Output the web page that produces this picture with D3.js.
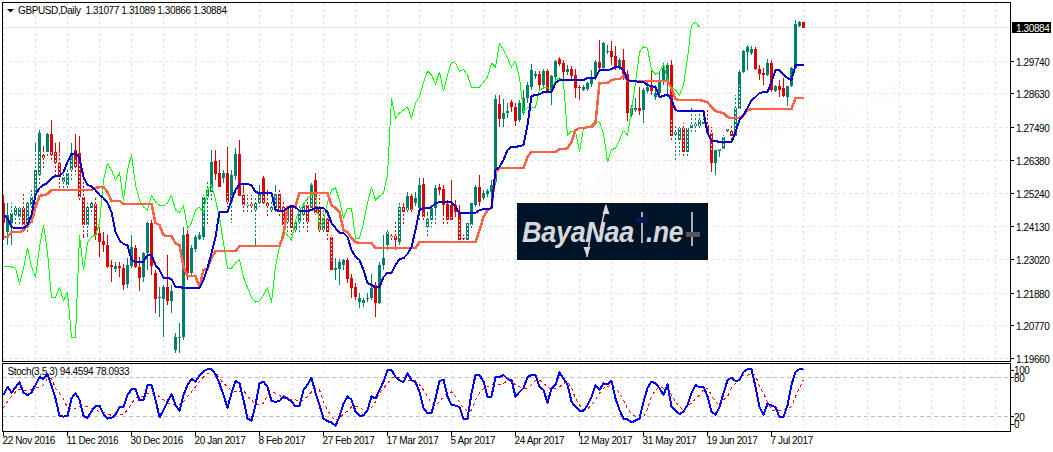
<!DOCTYPE html>
<html><head><meta charset="utf-8">
<script src="https://cdn.jsdelivr.net/npm/d3@7"></script>
<style>html,body{margin:0;padding:0;background:#fff}svg{display:block}text{font-family:"Liberation Sans",Arial,sans-serif;font-size:10px;fill:#000;letter-spacing:-0.38px}</style>
</head><body><div id="c"></div>
<script>
// All prices below are in 1/10000 units (pips).
const opens=[
12495,12396,12427,12454,12447,12478,12413,12488,12522,12590,
12658,12668,12729,12668,12630,12566,12556,12607,12675,12664,
12515,12420,12478,12492,12393,12366,12352,12285,12271,12281,
12274,12220,12281,12342,12278,12244,12325,12427,12258,12173,
12169,12210,12163,11997,12037,12040,12390,12258,12339,12373,
12380,12515,12532,12637,12597,12580,12597,12498,12586,12661,
12522,12485,12492,12471,12495,12580,12495,12471,12478,12525,
12481,12431,12481,12403,12431,12454,12488,12478,12573,12478,
12403,12441,12380,12268,12271,12285,12302,12241,12210,12159,
12156,12169,12173,12217,12156,12285,12352,12383,12383,12363,
12481,12471,12519,12495,12478,12559,12413,12437,12478,12549,
12542,12492,12488,12488,12464,12376,12369,12420,12488,12549,
12512,12525,12532,12566,12830,12779,12800,12837,12820,12776,
12800,12851,12888,12925,12932,12895,12942,12878,12922,12983,
12969,12939,12949,12929,12888,12878,12881,12898,12922,12973,
12952,13007,13010,12993,12956,12980,12932,12793,12810,12817,
12810,12875,12891,12854,12868,12905,12905,12963,12725,12708,
12749,12668,12749,12756,12756,12763,12759,12732,12630,12671,
12678,12739,12739,12722,12813,12939,13007,13003,13017,12949,
12936,12929,12969,12875,12891,12885,12854,12891,12952,13095,
13108];
const highs=[
12522,12495,12495,12488,12481,12529,12505,12539,12698,12742,
12688,12732,12776,12698,12702,12597,12607,12698,12729,12722,
12590,12495,12505,12515,12413,12396,12386,12302,12295,12295,
12288,12308,12386,12352,12312,12329,12431,12437,12268,12210,
12217,12319,12217,12054,12088,12413,12403,12352,12386,12396,
12522,12566,12675,12675,12641,12607,12685,12607,12681,12708,
12556,12522,12522,12515,12556,12586,12539,12505,12556,12539,
12505,12488,12488,12437,12488,12495,12512,12563,12597,12522,
12471,12471,12386,12308,12305,12305,12308,12254,12224,12190,
12173,12190,12254,12227,12295,12386,12403,12390,12431,12495,
12495,12532,12525,12532,12580,12580,12464,12488,12556,12559,
12556,12505,12573,12505,12488,12386,12427,12495,12556,12590,
12539,12542,12573,12861,12861,12847,12834,12844,12834,12844,
12878,12905,12966,12942,12942,12949,12949,12929,12980,12990,
12980,12963,12959,12949,12895,12895,12905,12946,12980,13047,
13041,13031,13044,13027,12986,13017,12946,12827,12851,12888,
12885,12912,12946,12895,12939,12969,12969,12980,12759,12752,
12766,12749,12817,12793,12810,12783,12810,12752,12675,12681,
12725,12749,12759,12861,12946,13014,13031,13027,13024,12963,
12952,12983,12980,12895,12912,12919,12891,12956,13115,13112,
13109];
const lows=[
12369,12352,12352,12420,12420,12410,12393,12471,12488,12556,
12607,12647,12641,12580,12546,12539,12539,12573,12590,12505,
12376,12380,12454,12369,12312,12329,12274,12227,12261,12244,
12200,12207,12274,12274,12196,12227,12268,12251,12122,12108,
12040,12149,12122,11986,11986,12030,12234,12251,12329,12369,
12369,12420,12505,12573,12549,12563,12481,12427,12573,12512,
12464,12464,12464,12352,12481,12488,12444,12461,12464,12451,
12396,12386,12386,12396,12396,12403,12396,12471,12454,12396,
12396,12369,12268,12234,12217,12268,12224,12173,12166,12139,
12142,12159,12166,12108,12152,12268,12336,12369,12336,12352,
12420,12457,12464,12485,12431,12431,12380,12413,12420,12522,
12417,12420,12431,12447,12369,12366,12366,12410,12481,12485,
12505,12515,12515,12556,12752,12752,12783,12803,12756,12769,
12793,12834,12878,12915,12878,12888,12868,12827,12912,12959,
12912,12929,12912,12851,12844,12875,12875,12888,12912,12939,
12946,13000,12963,12946,12946,12912,12773,12786,12803,12793,
12766,12868,12861,12844,12861,12895,12854,12702,12641,12658,
12647,12647,12735,12732,12742,12756,12725,12600,12590,12651,
12675,12735,12708,12719,12810,12936,12946,12997,12946,12912,
12895,12925,12871,12871,12854,12854,12824,12888,12949,13091,
13087];
const closes=[
12427,12454,12461,12478,12478,12420,12495,12515,12607,12732,
12647,12729,12658,12630,12583,12583,12597,12664,12617,12515,
12420,12481,12495,12386,12363,12352,12278,12278,12281,12274,
12217,12285,12346,12278,12241,12325,12427,12281,12169,12176,
12210,12163,12196,12040,12040,12386,12258,12342,12380,12386,
12515,12539,12634,12593,12549,12597,12498,12590,12661,12519,
12488,12488,12485,12495,12532,12495,12485,12481,12525,12468,
12420,12478,12410,12431,12471,12488,12431,12556,12461,12403,
12444,12396,12268,12274,12295,12302,12237,12207,12176,12173,
12166,12173,12207,12156,12285,12308,12396,12380,12369,12481,
12464,12519,12471,12512,12556,12447,12441,12478,12546,12539,
12488,12437,12437,12464,12369,12373,12427,12495,12549,12498,
12529,12535,12556,12847,12779,12800,12807,12820,12773,12834,
12851,12895,12946,12932,12895,12942,12875,12925,12976,12966,
12939,12949,12925,12885,12885,12888,12902,12922,12973,12952,
13037,13010,12990,12952,12980,12932,12800,12817,12817,12807,
12878,12888,12875,12868,12912,12952,12963,12722,12735,12749,
12668,12749,12759,12763,12776,12769,12732,12630,12675,12678,
12719,12746,12722,12817,12939,13010,13024,13017,12949,12932,
12929,12969,12878,12891,12878,12858,12891,12952,13102,13108,
13088];
const tenkan=[
12454,12444,12413,12410,12410,12410,12420,12454,12522,12546,
12556,12563,12580,12586,12586,12600,12634,12661,12664,12647,
12583,12556,12552,12539,12522,12512,12495,12464,12396,12369,
12356,12352,12302,12295,12295,12295,12319,12319,12285,12268,
12241,12241,12237,12210,12210,12207,12207,12207,12207,12207,
12234,12274,12325,12380,12464,12464,12464,12505,12539,12559,
12559,12559,12556,12532,12529,12529,12529,12529,12471,12468,
12468,12478,12485,12481,12468,12468,12468,12471,12478,12478,
12478,12464,12427,12410,12393,12393,12380,12336,12312,12302,
12268,12224,12217,12207,12210,12244,12258,12258,12285,12305,
12308,12322,12346,12403,12471,12478,12478,12481,12495,12498,
12498,12498,12498,12481,12461,12461,12461,12461,12461,12471,
12474,12474,12478,12607,12617,12641,12675,12685,12685,12688,
12691,12759,12858,12861,12864,12871,12871,12871,12902,12912,
12912,12912,12912,12912,12912,12912,12919,12919,12919,12946,
12946,12946,12949,12956,12956,12946,12912,12908,12908,12905,
12905,12895,12891,12888,12854,12858,12864,12844,12810,12807,
12807,12807,12807,12807,12807,12807,12732,12705,12705,12702,
12702,12702,12702,12735,12776,12793,12817,12844,12854,12868,
12871,12871,12905,12946,12946,12929,12919,12912,12963,12963,
12963];
const kijun=[
12380,12380,12396,12396,12396,12403,12420,12431,12481,12519,
12522,12525,12539,12539,12539,12539,12539,12539,12539,12539,
12539,12539,12539,12546,12549,12549,12532,12502,12502,12502,
12492,12492,12492,12492,12492,12492,12492,12492,12427,12420,
12386,12383,12383,12359,12352,12278,12247,12247,12247,12210,
12268,12271,12308,12332,12332,12332,12332,12332,12332,12349,
12349,12349,12349,12349,12349,12349,12349,12349,12349,12349,
12386,12481,12485,12485,12529,12529,12529,12529,12529,12529,
12529,12529,12488,12478,12464,12403,12396,12376,12363,12359,
12359,12359,12359,12342,12342,12342,12342,12342,12342,12342,
12342,12342,12342,12342,12363,12363,12363,12363,12363,12363,
12363,12363,12363,12363,12363,12363,12363,12363,12363,12403,
12447,12471,12478,12600,12613,12613,12613,12613,12613,12613,
12613,12651,12668,12668,12668,12668,12668,12668,12668,12678,
12678,12681,12702,12742,12749,12749,12752,12752,12766,12902,
12902,12902,12912,12915,12915,12925,12912,12908,12908,12908,
12908,12908,12908,12908,12908,12908,12908,12885,12847,12844,
12844,12844,12844,12844,12844,12841,12837,12820,12807,12803,
12800,12786,12783,12783,12783,12793,12810,12813,12813,12813,
12813,12813,12813,12813,12813,12813,12813,12813,12851,12851,
12851];
const chikou=[
12281,12281,12278,12274,12220,12274,12342,12278,12244,12346,
12420,12329,12173,12176,12210,12163,12193,12040,12040,12386,
12268,12359,12380,12386,12427,12573,12630,12607,12573,12597,
12505,12607,12658,12556,12505,12481,12471,12522,12498,12488,
12485,12495,12522,12471,12464,12485,12410,12427,12471,12481,
12461,12539,12556,12505,12447,12359,12274,12274,12291,12302,
12244,12207,12176,12159,12163,12183,12207,12159,12278,12346,
12403,12386,12369,12437,12471,12488,12512,12522,12529,12413,
12437,12495,12539,12546,12505,12444,12478,12478,12376,12376,
12427,12495,12549,12505,12519,12529,12590,12851,12783,12800,
12810,12820,12783,12834,12854,12905,12942,12929,12898,12939,
12875,12929,12973,12969,12942,12949,12929,12888,12885,12888,
12905,12922,12969,12956,13037,13014,12986,12956,12976,12919,
12803,12820,12817,12820,12878,12885,12888,12871,12912,12919,
12905,12725,12739,12739,12668,12749,12752,12759,12776,12769,
12732,12634,12675,12681,12708,12742,12725,12810,12902,13007,
13024,13020,12946,12932,12939,12966,12912,12888,12878,12861,
12895,12986,13098,13108,13091];
// Faint Ichimoku cloud, read at selected bars
const cloudBars=[0,4,8,12,16,24,32,40,44,49,57,64,72,76,80,87,95,99,107,114,119,123,127,148,156,166,174,176,180,186,194,200,204,208,212,217,221,225];
const cloudTop=[12675,12675,12675,12668,12658,12613,12590,12607,12607,12590,12522,12539,12539,12539,12539,12556,12539,12488,12454,12444,12420,12420,12420,12580,12749,12776,12817,12919,12929,12878,12793,12827,12827,12827,12810,12871,12895,12912];
const cloudBottom=[12539,12369,12352,12336,12346,12420,12488,12505,12505,12420,12386,12369,12251,12210,12251,12420,12386,12369,12352,12336,12278,12285,12336,12505,12505,12539,12641,12675,12675,12725,12708,12793,12759,12749,12776,12827,12844,12844];
const stochMain=[
54,67,58,66,74,58,54,58,70,82,79,86,69,49,22,21,22,49,57,47,
22,19,29,37,38,25,18,19,24,36,36,54,63,63,46,46,69,70,47,20,
31,44,56,39,30,54,70,79,75,84,91,94,94,86,72,54,35,57,76,72,
47,18,15,39,72,75,67,45,44,45,52,49,44,37,37,62,70,81,57,39,
18,14,12,7,21,41,52,
47,29,22,23,31,52,49,62,75,92,93,82,77,74,88,77,74,59,34,26,
26,49,76,78,52,39,38,36,18,18,57,85,85,75,52,52,82,82,85,79,
77,52,59,65,82,85,85,67,62,42,65,70,89,80,70,44,36,30,30,39,
51,69,62,72,71,76,49,31,18,17,12,15,18,44,65,75,72,65,54,71,
36,31,25,29,39,57,70,66,
67,52,29,24,36,57,77,81,76,77,90,94,94,67,36,24,41,38,36,20,
21,38,70,90,94,94.46];
const stochSignal=[
34,44,52,59,63,62,62,63,65,67,70,80,80,65,57,49,34,33,34,36,
36,36,34,31,29,28,25,23,24,25,25,31,41,49,52,52,57,57,55,52,
47,41,40,38,39,44,52,59,67,75,82,87,90,89,80,72,67,62,59,59,
62,52,47,39,39,41,54,59,57,54,49,49,47,47,44,47,52,59,65,62,
44,31,21,16,18,26,29,
36,36,36,31,31,34,44,57,65,72,80,82,82,82,77,77,77,70,62,52,
41,38,44,52,57,59,52,44,34,29,31,47,57,65,67,70,72,70,72,77,
75,70,67,65,65,70,77,77,72,67,62,65,67,72,75,65,49,39,31,33,
39,47,57,65,67,70,65,57,47,33,26,21,18,21,33,52,62,67,65,65,
54,44,36,31,39,41,49,54,
62,65,54,44,38,47,52,65,72,80,85,85,87,85,67,57,44,31,31,31,
31,33,36,52,65,78.09];
const priceTicks=[1.30884,1.2974,1.2863,1.2749,1.2638,1.2524,1.2413,1.2302,1.2188,1.2077,1.1966];
const stochTicks=[100,80,20,0];
const stochGuides=[80,20];
const dateLabels=["22 Nov 2016","11 Dec 2016","30 Dec 2016","20 Jan 2017","8 Feb 2017","27 Feb 2017","17 Mar 2017","5 Apr 2017","24 Apr 2017","12 May 2017","31 May 2017","19 Jun 2017","7 Jul 2017"];
const title="GBPUSD,Daily  1.31077 1.31089 1.30866 1.30884";
const stochTitle="Stoch(3,5,3) 94.4594 78.0933";

const W=1053,H=452,L=2.5,R=1010.5,T=2.5,PB=361.5,ST=363.5,SB=431.5;
const svg=d3.select("#c").append("svg").attr("width",W).attr("height",H);
const x=d3.scaleLinear().domain([0,1]).range([3.5,7.5]);
const y=d3.scaleLinear().domain([1.1966,1.30884]).range([359,28]);
const yp=p=>y(p/1e4);
const ys=d3.scaleLinear().domain([0,100]).range([430.3,365.3]);
const up="#008068",down="#e00000",gridCol="#e0e0f3";
const snap=v=>Math.round(v)-0.5;

const defs=svg.append("defs");
defs.append("clipPath").attr("id","main").append("rect").attr("x",L).attr("y",T).attr("width",R-L).attr("height",PB-T);
const pat=defs.append("pattern").attr("id","cloud").attr("patternUnits","userSpaceOnUse").attr("x",3).attr("y",0).attr("width",4).attr("height",4);
pat.append("rect").attr("x",0).attr("y",0).attr("width",1).attr("height",2).attr("fill","#fbf3ea");

// grid
const gridBars=d3.range(0,250,8).filter(i=>x(i)<R);
const grid=svg.append("g").attr("shape-rendering","crispEdges").attr("stroke",gridCol).attr("stroke-dasharray","3,3");
grid.selectAll(".v").data(gridBars).join("line").attr("x1",x).attr("x2",x).attr("y1",T).attr("y2",PB);
grid.selectAll(".v2").data(gridBars).join("line").attr("x1",x).attr("x2",x).attr("y1",ST).attr("y2",SB);
grid.selectAll(".h").data(priceTicks.slice(1)).join("line").attr("x1",L).attr("x2",R).attr("y1",d=>snap(y(d))).attr("y2",d=>snap(y(d)));
// current price line
svg.append("line").attr("x1",L).attr("x2",R).attr("y1",snap(y(1.30884))).attr("y2",snap(y(1.30884))).attr("stroke",gridCol).attr("shape-rendering","crispEdges");

const main=svg.append("g").attr("clip-path","url(#main)");
// candles
const bars=d3.range(opens.length);
const cg=main.append("g").attr("shape-rendering","crispEdges");
cg.selectAll(".w").data(bars).join("line")
 .attr("x1",x).attr("x2",x).attr("y1",i=>yp(highs[i])).attr("y2",i=>yp(lows[i]))
 .attr("stroke",i=>closes[i]>=opens[i]?up:down);
cg.selectAll(".b").data(bars).join("rect")
 .attr("x",i=>x(i)-1.5).attr("width",3)
 .attr("y",i=>yp(Math.max(opens[i],closes[i])))
 .attr("height",i=>Math.max(1,Math.abs(yp(opens[i])-yp(closes[i]))))
 .attr("fill",i=>closes[i]>=opens[i]?up:down);
// cloud hatching sits over the candles
main.append("path").datum(cloudBars.map((b,k)=>[b,cloudTop[k],cloudBottom[k]]))
 .attr("d",d3.area().x(d=>x(d[0])).y0(d=>yp(d[2])).y1(d=>yp(d[1])))
 .attr("fill","url(#cloud)").attr("shape-rendering","crispEdges");
// ichimoku lines
const ln=d3.line().x((d,i)=>x(i)).y(d=>yp(d));
const lineStyle=(s,c,w)=>s.attr("fill","none").attr("stroke",c).attr("stroke-width",w).attr("stroke-linejoin","round").attr("shape-rendering","crispEdges");
main.append("path").attr("d",ln(chikou)).call(lineStyle,"#00ff00",1);
main.append("path").attr("d",ln(kijun)).call(lineStyle,"#ff6347",2.5);
main.append("path").attr("d",ln(tenkan)).call(lineStyle,"#0000cd",2);

// stochastic pane
svg.append("g").attr("shape-rendering","crispEdges").selectAll("line").data(stochGuides).join("line")
 .attr("x1",L).attr("x2",R).attr("y1",d=>snap(ys(d))).attr("y2",d=>snap(ys(d))).attr("stroke","#c0c0c0").attr("stroke-dasharray","4,3");
const sl=d3.line().x((d,i)=>x(i)).y(d=>ys(d));
svg.append("path").attr("d",sl(stochSignal)).call(lineStyle,"#ff0000",1).attr("stroke-dasharray","3,3");
svg.append("path").attr("d",sl(stochMain)).call(lineStyle,"#0000ff",2);

// watermark
const logo=svg.append("g");
logo.append("rect").attr("x",517).attr("y",203).attr("width",191).attr("height",57).attr("fill","#001428");
const lt=(s,xx,w)=>logo.append("text").attr("x",xx).attr("y",242).attr("textLength",w).attr("lengthAdjust","spacingAndGlyphs").attr("font-style","italic").attr("font-weight","bold").style("font-size","30px").style("fill","#d5d8db").text(s);
lt("BayaNaa",522,112);lt(".ne",646,37);
const gl=(x1,y1,x2,y2,c,w)=>logo.append("line").attr("x1",x1).attr("y1",y1).attr("x2",x2).attr("y2",y2).attr("stroke",c).attr("stroke-width",w);
gl(606,205,600,232,"#d5d8db",1.5);gl(587,257,592,225,"#d5d8db",1.5);
logo.append("path").attr("d","M606,204l-3.5,10h7zM587,257l-3.5,-10h7z").attr("fill","#d5d8db");
gl(642,212,642,243,"#e0e2e4",1.5);logo.append("rect").attr("x",636).attr("y",217).attr("width",12).attr("height",6).attr("fill","#0a1450");
gl(692,212,692,246,"#e0e2e4",1.5);logo.append("rect").attr("x",686).attr("y",232).attr("width",14).attr("height",5).attr("fill","#555");

// frames
const fr=svg.append("g").attr("fill","none").attr("stroke","#000").attr("shape-rendering","crispEdges");
fr.append("rect").attr("x",L).attr("y",T).attr("width",R-L).attr("height",PB-T);
fr.append("rect").attr("x",L).attr("y",ST).attr("width",R-L).attr("height",SB-ST);

// header
svg.append("path").attr("d","M7,9h7l-3.5,3.5z").attr("fill","#000");
svg.append("text").attr("x",18).attr("y",14).style("white-space","pre").text(title);
svg.append("text").attr("x",7.5).attr("y",375).text(stochTitle);

// price axis
const pa=svg.append("g");
pa.selectAll("line").data(priceTicks.slice(1)).join("line").attr("x1",R).attr("x2",R+3.5).attr("y1",d=>snap(y(d))).attr("y2",d=>snap(y(d))).attr("stroke","#000").attr("shape-rendering","crispEdges");
pa.selectAll("text").data(priceTicks.slice(1)).join("text").attr("x",1016).attr("y",d=>snap(y(d))+4).text(d=>d.toFixed(5));
svg.append("rect").attr("x",1012).attr("y",22).attr("width",39).attr("height",11).attr("fill","#000");
svg.append("text").attr("x",1016).attr("y",32).style("fill","#fff").text(priceTicks[0].toFixed(5));

// stoch axis
const sa=svg.append("g");
sa.selectAll("line").data(stochTicks).join("line").attr("x1",R).attr("x2",R+3.5)
 .attr("y1",d=>d===100?370.5:d===0?424.5:snap(ys(d))).attr("y2",d=>d===100?370.5:d===0?424.5:snap(ys(d))).attr("stroke","#000").attr("shape-rendering","crispEdges");
sa.selectAll("text").data(stochTicks).join("text").attr("x",1014).attr("y",d=>(d===100?370:d===0?424:snap(ys(d)))+4).text(d=>d);

// time axis
const ta=svg.append("g");
ta.selectAll("line").data(dateLabels).join("line").attr("x1",(d,k)=>x(k*16)).attr("x2",(d,k)=>x(k*16)).attr("y1",SB).attr("y2",SB+4).attr("stroke","#000").attr("shape-rendering","crispEdges");
ta.selectAll("text").data(dateLabels).join("text").attr("x",(d,k)=>x(k*16)-1).attr("y",444).text(d=>d);
</script></body></html>
